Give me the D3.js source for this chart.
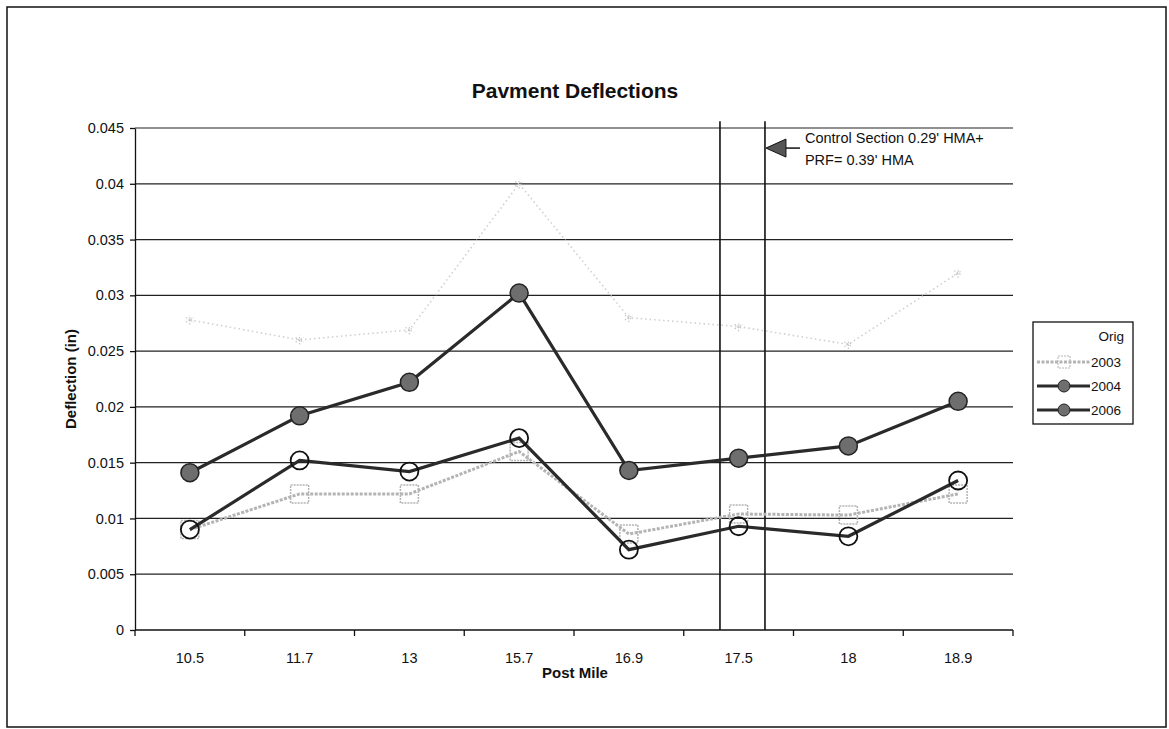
<!DOCTYPE html>
<html>
<head>
<meta charset="UTF-8">
<title>Pavment Deflections</title>
<script src="https://d3js.org/d3.v7.min.js"></script>
<style>
  body { margin: 0; background: #fff; }
  svg text { font-family: "Liberation Sans", Arial, sans-serif; fill: #111; }
  .grid line { stroke: #222; stroke-width: 1.2px; }
  .axis path, .axis line { stroke: #111; stroke-width: 1.3px; }
  .axis text { font-size: 14.5px; }
</style>
</head>
<body>
<div id="chart"></div>
<script>
const postMiles = ["10.5", "11.7", "13", "15.7", "16.9", "17.5", "18", "18.9"];
const orig  = [0.0278, 0.0260, 0.0269, 0.0400, 0.0280, 0.0272, 0.0256, 0.0320];
const y2003 = [0.0090, 0.0122, 0.0122, 0.0160, 0.0086, 0.0104, 0.0103, 0.0122];
const y2004 = [0.0090, 0.0152, 0.0142, 0.0172, 0.0072, 0.0093, 0.0084, 0.0134];
const y2006 = [0.0141, 0.0192, 0.0222, 0.0302, 0.0143, 0.0154, 0.0165, 0.0205];
const yTicks = [0, 0.005, 0.01, 0.015, 0.02, 0.025, 0.03, 0.035, 0.04, 0.045];

const W = 1169, H = 729;
const margin = { top: 128, right: 156, bottom: 99, left: 135 };
const innerW = W - margin.left - margin.right;
const innerH = H - margin.top - margin.bottom;

const svg = d3.select("#chart").append("svg")
  .attr("width", W).attr("height", H);

// outer frame
svg.append("rect")
  .attr("x", 7).attr("y", 7).attr("width", 1159).attr("height", 720)
  .attr("fill", "none").attr("stroke", "#111").attr("stroke-width", 1.5);

const g = svg.append("g").attr("transform", `translate(${margin.left},${margin.top})`);

const x = d3.scaleBand().domain(postMiles).range([0, innerW]);
const y = d3.scaleLinear().domain([0, 0.045]).range([innerH, 0]);
const cx = d => x(d) + x.bandwidth() / 2;

// gridlines
g.append("g").attr("class", "grid")
  .selectAll("line").data(yTicks.slice(1)).enter().append("line")
  .attr("x1", 0).attr("x2", innerW)
  .attr("y1", d => y(d)).attr("y2", d => y(d));

// axes
g.append("g").attr("class", "axis")
  .call(d3.axisLeft(y).tickValues(yTicks).tickSize(5).tickSizeOuter(0)
    .tickFormat(d => d === 0 ? "0" : String(+d.toFixed(3))))
  .call(a => a.selectAll("text").attr("dx", "-3"));

const xAxis = g.append("g").attr("class", "axis")
  .attr("transform", `translate(0,${innerH})`)
  .call(d3.axisBottom(x).tickSize(0).tickPadding(23));
xAxis.select(".domain").remove();
xAxis.append("line").attr("x1", 0).attr("x2", innerW);
xAxis.selectAll(".sep").data(d3.range(postMiles.length + 1)).enter().append("line")
  .attr("x1", i => i * x.step()).attr("x2", i => i * x.step())
  .attr("y1", 0).attr("y2", 6);

// control section lines
const sectionX = [cx("17.5") - 0.17 * x.step(), cx("17.5") + 0.24 * x.step()];
g.selectAll(".section").data(sectionX).enter().append("line")
  .attr("x1", d => d).attr("x2", d => d)
  .attr("y1", y(0.0456)).attr("y2", innerH)
  .attr("stroke", "#111").attr("stroke-width", 1.6);

// series
const line = vals => d3.line().x((d, i) => cx(postMiles[i])).y(d => y(d))(vals);

// Orig: faint dotted
g.append("path").attr("d", line(orig))
  .attr("fill", "none").attr("stroke", "#cfcfcf").attr("stroke-width", 1.6)
  .attr("stroke-dasharray", "1.5,3");
g.selectAll(".om").data(orig).enter().append("path")
  .attr("transform", (d, i) => `translate(${cx(postMiles[i])},${y(d)})`)
  .attr("d", d3.symbol(d3.symbolAsterisk, 60)())
  .attr("fill", "none").attr("stroke", "#c8c8c8").attr("stroke-width", 1.2)
  .attr("stroke-dasharray", "1.5,1.5");

// 2003: light gray squares
g.append("path").attr("d", line(y2003))
  .attr("fill", "none").attr("stroke", "#b4b4b4").attr("stroke-width", 3)
  .attr("stroke-dasharray", "3,1.5");
g.selectAll(".m03").data(y2003).enter().append("rect")
  .attr("x", (d, i) => cx(postMiles[i]) - 9).attr("y", d => y(d) - 9)
  .attr("width", 18).attr("height", 18)
  .attr("fill", "none").attr("stroke", "#b4b4b4").attr("stroke-width", 1.5)
  .attr("stroke-dasharray", "2,1");

// 2004: dark line, open circles
g.append("path").attr("d", line(y2004))
  .attr("fill", "none").attr("stroke", "#2a2a2a").attr("stroke-width", 3.2);
g.selectAll(".m04").data(y2004).enter().append("circle")
  .attr("cx", (d, i) => cx(postMiles[i])).attr("cy", d => y(d)).attr("r", 9)
  .attr("fill", "none").attr("stroke", "#111").attr("stroke-width", 1.8);

// 2006: dark line, filled circles
g.append("path").attr("d", line(y2006))
  .attr("fill", "none").attr("stroke", "#2a2a2a").attr("stroke-width", 3.2);
g.selectAll(".m06").data(y2006).enter().append("circle")
  .attr("cx", (d, i) => cx(postMiles[i])).attr("cy", d => y(d)).attr("r", 9)
  .attr("fill", "#6e6e6e").attr("stroke", "#222").attr("stroke-width", 1.5);

// annotation arrow
const tipX = sectionX[1] + 1, tipY = y(0.0432);
g.append("line").attr("x1", tipX + 18).attr("x2", tipX + 34)
  .attr("y1", tipY).attr("y2", tipY).attr("stroke", "#111").attr("stroke-width", 1.5);
g.append("path")
  .attr("d", `M${tipX},${tipY} L${tipX + 20},${tipY - 9} L${tipX + 20},${tipY + 9} Z`)
  .attr("fill", "#555").attr("stroke", "#111").attr("stroke-width", 1);
g.append("text").attr("x", tipX + 39).attr("y", tipY - 5)
  .style("font-size", "14.5px").text("Control Section 0.29' HMA+");
g.append("text").attr("x", tipX + 39).attr("y", tipY + 17)
  .style("font-size", "14.5px").text("PRF= 0.39' HMA");

// titles
svg.append("text").attr("x", margin.left + innerW / 2 + 1).attr("y", 98)
  .attr("text-anchor", "middle").style("font-size", "21px").style("font-weight", "bold")
  .text("Pavment Deflections");
svg.append("text").attr("x", margin.left + innerW / 2 + 1).attr("y", 678)
  .attr("text-anchor", "middle").style("font-size", "15px").style("font-weight", "bold")
  .text("Post Mile");
svg.append("text")
  .attr("transform", `translate(76,${margin.top + innerH / 2}) rotate(-90)`)
  .attr("text-anchor", "middle").style("font-size", "15px").style("font-weight", "bold")
  .text("Deflection (in)");

// legend
const lg = svg.append("g").attr("transform", "translate(1033,322)");
lg.append("rect").attr("width", 100).attr("height", 102)
  .attr("fill", "#fff").attr("stroke", "#111").attr("stroke-width", 1.3);
lg.append("text").attr("x", 91).attr("y", 19).attr("text-anchor", "end")
  .style("font-size", "13.5px").text("Orig");
const legendItems = [
  { name: "2003", color: "#b4b4b4", fill: "none", shape: "square", dash: "3,1.5" },
  { name: "2004", color: "#2a2a2a", fill: "#6e6e6e", shape: "circle", dash: null },
  { name: "2006", color: "#2a2a2a", fill: "#6e6e6e", shape: "circle", dash: null }
];
legendItems.forEach((it, i) => {
  const yy = 40 + i * 24;
  lg.append("line").attr("x1", 4).attr("x2", 57).attr("y1", yy).attr("y2", yy)
    .attr("stroke", it.color).attr("stroke-width", 3).attr("stroke-dasharray", it.dash);
  if (it.shape === "square") {
    lg.append("rect").attr("x", 25).attr("y", yy - 6).attr("width", 12).attr("height", 12)
      .attr("fill", "none").attr("stroke", it.color).attr("stroke-dasharray", "2,1");
  } else {
    lg.append("circle").attr("cx", 31).attr("cy", yy).attr("r", 6)
      .attr("fill", it.fill).attr("stroke", "#222");
  }
  lg.append("text").attr("x", 58).attr("y", yy + 5)
    .style("font-size", "13.5px").text(it.name);
});
</script>
</body>
</html>
